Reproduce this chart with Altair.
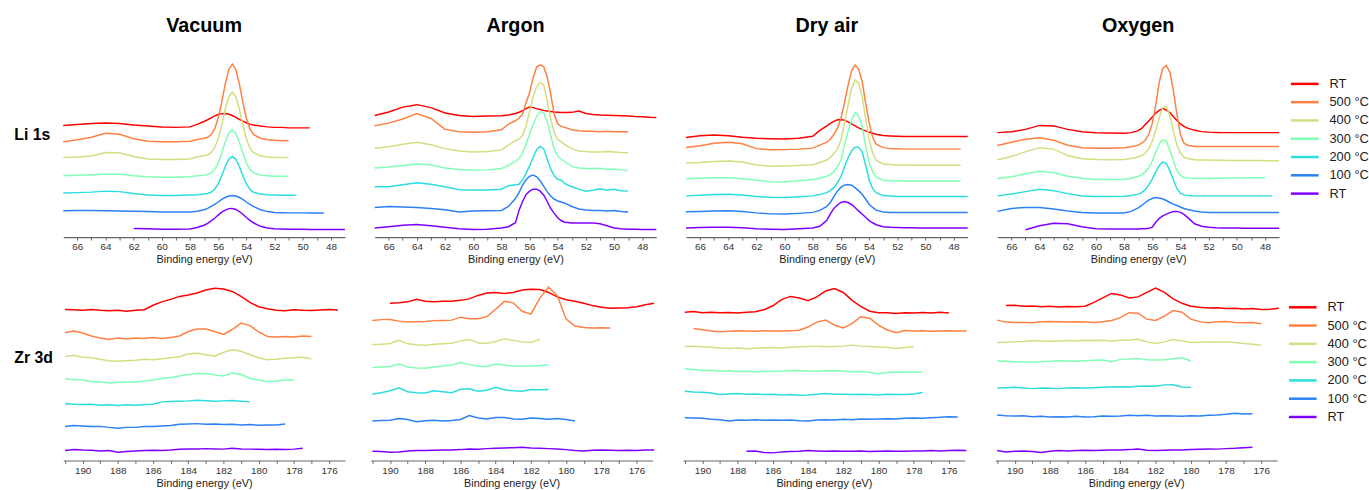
import altair as alt
import pandas as pd

FONT = "Liberation Sans"

# ---------------- series / legend ----------------
LABELS = ["RT", "500 °C", "400 °C", "300 °C", "200 °C", "100 °C", "RT"]
KEYS = ["RT (after)", "500", "400", "300", "200", "100", "RT (before)"]
COLORS = ["#ff0000", "#ff8042", "#d4dd80", "#80ffb4", "#2bdddd", "#2b80f6", "#8000ff"]
ATMOS = ["Vacuum", "Argon", "Dry air", "Oxygen"]

# ---------------- Li 1s ----------------
LI_E = [67, 66, 65, 64, 63, 62, 61, 60, 59, 58,
        57.5, 57, 56.75, 56.5, 56.25, 56, 55.75, 55.5, 55.25, 55, 54.75, 54.5, 54.25, 54, 53.75, 53.5, 53,
        52.5, 52, 51.5, 51, 50.5, 50, 49.5, 49, 48.5, 48, 47.5, 47]
LI_TICKS = [48, 49, 50, 51, 52, 53, 54, 55, 56, 57, 58, 59, 60, 61, 62, 63, 64, 65, 66]

LI_VACUUM = [
    [113, 114, 115, 115.5, 115, 113.5, 112.5, 111.5, 111, 111.5,
     114, 117, 118.7, 120.7, 122.6, 124, 124.9, 125, 124.2, 123, 121.2, 119, 117.3, 115.7, 114.3, 113.4, 112.3,
     111.5, 111, 111, 110.5, 110.5, 110.5, 110.5, None, None, None, None, None],
    [96.5, 98.5, 101, 105, 104, 99.5, 97, 96.5, 96.5, 97,
     98.8, 100, 101, 103.8, 109.5, 120.3, 136.5, 155, 169.6, 175, 169.6, 155, 136.5, 120.3, 109.5, 103.8, 100,
     98.5, 98, 97.5, 97.5, None, None, None, None, None, None, None, None],
    [80.5, 81, 82, 85.5, 85, 81.5, 79, 78.5, 78.5, 79,
     81.2, 82.2, 83.1, 85.5, 90.4, 99.6, 113.5, 129.3, 141.9, 146.5, 141.9, 129.3, 113.5, 99.6, 90.4, 85.5, 82.2,
     81, 80.5, 80.5, 80.5, None, None, None, None, None, None, None, None],
    [62, 62.5, 63, 63.5, 63.5, 62, 61, 60.5, 60.5, 61,
     62, 62.7, 63.4, 65, 68.6, 75.1, 85, 96.3, 105.2, 108.5, 105.2, 96.3, 85, 75.1, 68.6, 65, 62.7,
     62, 61.5, 61.5, 61.5, None, None, None, None, None, None, None, None],
    [44.5, 45, 45.5, 46.5, 46, 44, 42.5, 42, 42, 42.5,
     42.9, 43.5, 44.1, 45.4, 48.4, 53.8, 62, 71.4, 78.8, 81.5, 78.8, 71.4, 62, 53.8, 48.4, 45.4, 43.5,
     42.8, 42.5, 42.3, 42.3, 42.3, None, None, None, None, None, None, None],
    [26.7, 26.8, 26.8, 26.7, 26.5, 26.2, 25.8, 25.5, 25.5, 25.5,
     26.2, 27.7, 29.1, 31, 33.2, 35.5, 38.1, 40.1, 41.5, 42, 41.5, 40.1, 38.1, 35.5, 33.2, 31, 27.7,
     25.8, 25, 24.7, 24.5, 24.5, 24.5, 24.3, 24.3, 24.3, None, None, None],
    [None, None, None, None, None, 8.7, 8.5, 8, 8, 8.3,
     9.7, 12, 13.9, 16.4, 19.1, 22.3, 25.2, 27.3, 28.8, 29, 28, 25.9, 23.1, 19.8, 17, 14.5, 10.9,
     9.3, 8.5, 8.2, 8, 8, 8, 7.8, 7.8, 7.7, 7.7, 7.7, 7.7],
]

LI_ARGON = [
    [123, 126.5, 131.5, 134, 131, 125.5, 123, 122, 122.5, 122.7,
     123.5, 125, 126.3, 128, 130, 131.5, 131, 130, 129, 128.2, 127.5, 127, 126.5, 126.3, 126, 126, 126.2,
     127.5, 125, 124, 123.5, 123.2, 123, 122.8, 122.5, 122, 121.8, 121.3, 121],
    [112.7, 115.3, 119.5, 125, 120, 109, 106.5, 106, 106.5, 108.5,
     114.3, 117.7, 120.5, 124.3, 136, 146, 161, 172, 174.3, 172.5, 162, 145, 124, 114.5, 112, 111, 108.7,
     107.5, 107, 107, 106.5, 107, 106.5, 106.5, 106.5, None, None, None, None],
    [90, 91.5, 94, 96, 93.5, 89.5, 87, 86, 86.5, 88,
     93, 97.5, 99, 103, 112, 127, 142, 152, 156.5, 154, 138, 120, 106, 98.5, 96.5, 93.5, 89.5,
     87, 86.5, 86, 86, 86.5, 86, 85.5, 85.3, None, None, None, None],
    [70, 71, 72.5, 74, 73, 70, 68.5, 67.7, 68, 69.3,
     72.5, 76.5, 79.5, 85, 94, 104, 114, 122, 127, 126, 117, 103, 89, 82, 79, 76.5, 71.5,
     70, 69.5, 69.5, 69.7, 68.5, 69, 68, 67, None, None, None, None],
    [51, 51, 53, 55, 53.5, 51, 48, 47.7, 47.7, 48.5,
     52, 53, 53.5, 58, 64.5, 72, 80.5, 88.5, 91.7, 89.5, 79, 69, 62, 58.5, 57.5, 54, 51,
     48.5, 46.5, 47.5, 49, 47.5, 48.5, 47, 46.5, None, None, None, None],
    [30, 31, 30.5, 30, 29, 27.7, 25.5, 26.5, 26.7, 27,
     31, 39, 45, 52.5, 58, 61.5, 62.7, 61, 57, 51.5, 46, 41.5, 38.5, 36.5, 35.5, 34.3, 31,
     28.5, 27.5, 27, 27, 26.5, 27, 26, 25.3, None, None, None, None],
    [9.3, 10.5, 12, 12.7, 11.5, 10, 8.5, 7.7, 8, 9.3,
     10.5, 14.5, 27, 36, 43, 46.5, 48.5, 48.5, 46.5, 42.7, 36, 29, 24, 19.5, 16.5, 15, 14.3,
     14.3, 14.3, 14.3, 13.5, 11.5, 9.3, 8.5, 8, 8, 7.7, 7.7, 7.7],
]

LI_DRYAIR = [
    [100.7, 102.5, 103.3, 102.5, 101, 100, 99.5, 99.3, 100, 102,
     108, 112.5, 115, 117, 118.7, 119, 118.3, 116.5, 114.5, 112.5, 110.5, 109, 107.5, 106, 105, 104, 102.7,
     102.3, 102, 101.7, 101.7, 101.7, 101.7, 101.7, 101.7, 101.7, 101.7, 101.7, 101.7],
    [90.7, 92.5, 95, 96, 94.5, 89.5, 88.3, 88.5, 89, 90,
     93, 96, 99, 104, 110, 120, 136, 153, 168, 174, 170, 158, 136, 116, 101, 94, 90.5,
     89.5, 89.3, 89, 89, 89, 89, 89, 89, 89, 89, 89, None],
    [75, 75.5, 76.5, 77, 76, 73, 71.7, 72, 72.5, 73.3,
     75.5, 78, 80.5, 84.5, 89, 98, 115, 133, 150, 159, 156, 143, 120, 99, 85, 77.5, 74,
     73.5, 73, 73, 73, 72.7, 72.7, 72.7, 72.7, 72.7, 72.7, 72.7, None],
    [59, 59.5, 60, 60, 59, 57.5, 56, 55.7, 57, 58.3,
     59.5, 61.5, 63.5, 66.5, 71, 78, 93, 107, 118, 126, 123, 113, 92, 76, 66, 61, 57.5,
     57, 57, 56.7, 56.7, 56.7, 56.7, 56.7, 56.7, 56.7, 56.7, 56.7, None],
    [41.7, 42.3, 43, 43.3, 42.5, 41, 40.3, 40, 40.8, 41.7,
     43, 45, 47, 50, 55, 61, 71, 80, 87, 91, 91, 86.5, 73, 58, 49, 45, 42,
     41.5, 41, 41, 41, 41, 41, 41, 41, 41, 41, 41, 41],
    [25.7, 26, 26.5, 26.7, 26, 24.5, 23.5, 23.3, 24, 25,
     27, 31, 35, 41, 46.5, 50.5, 52.5, 53.3, 52.5, 50, 47, 43.3, 38.5, 33.3, 30, 27.3, 25.5,
     25, 25, 25, 25, 25, 25, 25, 25, 25, 25, 25, 25],
    [9.3, 9.7, 10, 10, 9.5, 8.5, 8, 7.7, 8.5, 9.3,
     11, 17, 23.5, 29, 32.5, 35, 36, 35, 33, 30, 26.5, 23.3, 20, 16.7, 14.5, 12.5, 10.5,
     10, 9.7, 9.5, 9.5, 9.3, 9.3, 9.3, 9.3, 9.3, 9.3, 9.3, 9.3],
]

LI_OXYGEN = [
    [105.7, 106.5, 109, 113, 112.5, 109, 106.5, 105.5, 105.2, 105,
     105.7, 107.7, 110, 114, 117.5, 121.5, 125.5, 128.3, 130, 128.5, 126, 121.7, 118, 114.5, 112, 110.2, 108,
     106.7, 106.2, 105.9, 105.7, 105.7, 105.7, 105.7, 105.7, 105.7, 105.7, 105.7, 105.7],
    [92.7, 96, 99, 100.5, 98, 93, 90.5, 90, 90, 90.5,
     91.5, 93, 95, 98, 104, 115, 134, 157, 171, 173.5, 166.7, 148, 124, 103.5, 95, 93, 91.7,
     91.7, 91.7, 91.7, 91.7, 91.7, 91.7, 91.7, 91.7, 91.7, 91.7, 91.7, 91.7],
    [78.3, 81.5, 86.5, 90.5, 89, 82.5, 79.3, 78.5, 78.3, 78.5,
     79.5, 81, 82.5, 85, 89.5, 97, 108, 121, 131, 132, 123, 107, 93, 85, 81, 79.5, 78.3,
     78, 78, 77.8, 77.7, 77.6, 77.5, 77.5, 77.4, 77.4, 77.3, 77.3, 77.3],
    [59.3, 61, 64, 66.5, 65, 61.5, 59.5, 58.3, 58.3, 58.5,
     59.5, 61.5, 63, 66, 70, 77, 86, 94.5, 98.3, 97, 88, 77, 67, 62.5, 60.5, 59.7, 59.3,
     59.3, 59.3, 59.5, 59.5, 59.7, 59.7, 59.8, 60, 60, 60, None, None],
    [41.7, 43.5, 46, 48.5, 47, 44, 41.5, 41, 41, 41.3,
     42, 43.5, 45, 48, 52.5, 59, 66, 72.5, 76, 74.5, 67, 58, 49, 44.5, 42.7, 42, 41.7,
     41.7, 41.7, 41.7, 41.7, 41.7, 41.7, 41.7, 41.7, 41.7, 41.7, 41.7, None],
    [26, 29, 30, 30, 28.5, 26.5, 25, 24.3, 24.3, 24.3,
     26, 29.5, 32, 35, 37.5, 39, 40, 39.5, 38.5, 37, 35, 33.3, 32, 30.5, 29, 28, 26.5,
     25.3, 25, 25, 25, 25, 25, 25, 25, 25, 25, 25, 25],
    [None, None, 7.5, 11.5, 14, 13.5, 10.5, 8.5, 8.3, 8.3,
     8.3, 8.3, 8.4, 8.5, 9, 10, 15, 19, 21.5, 23.3, 24.8, 25.8, 26, 25, 23, 20, 13.5,
     11, 10, 9.5, 9.3, 9.2, 9.1, 9, 9, 9, 9, 9, 9],
]

# ---------------- Zr 3d ----------------
ZR_E = [191, 190.5, 190, 189.5, 189, 188.5, 188, 187.5, 187, 186.5,
        186, 185.5, 185, 184.5, 184, 183.5, 183, 182.5, 182, 181.5,
        181, 180.5, 180, 179.5, 179, 178.5, 178, 177.5, 177, 176.5,
        176, 175.5, 175]
ZR_TICKS = [176, 177, 178, 179, 180, 181, 182, 183, 184, 185, 186, 187, 188, 189, 190, 191]

N = None
ZR_VACUUM = [
    [152.7, 152.5, 152, 152.7, 152, 151.5, 152, 151, 152, 152.5,
     157, 160.5, 163, 166, 167.5, 169.5, 172.5, 174.3, 173.5, 171,
     166, 160, 155.5, 153.5, 152, 151.5, 152.5, 152, 151.7, 152.3,
     152.7, 152.3, N],
    [129.3, 131, 129, 126, 124, 122.5, 124, 123, 124, 123.5,
     124.5, 123.5, 124.5, 126, 130.5, 133, 133, 130.5, 127.5, 132.5,
     139, 136.5, 130, 125.5, 125, 125.5, 125, 126, 125.5, N,
     N, N, N],
    [105.3, 106.5, 104.5, 104, 102.5, 101, 100.5, 101, 101.5, 102.5,
     102, 103, 104, 105, 108, 108.5, 107, 105.5, 109.5, 112,
     110.5, 107, 104, 102, 102.5, 103.5, 104, 104.5, 103, N,
     N, N, N],
    [82.7, 82, 81.5, 80, 79.5, 78.5, 79, 79.5, 79.3, 80.5,
     81.5, 83, 84, 85.5, 87, 88, 88, 86.5, 85.5, 88.5,
     87, 83, 81.5, 80, 80.5, 81.5, 81.5, N, N, N,
     N, N, N],
    [57.7, 57, 56.7, 57, 56, 56.3, 55.7, 56.3, 56, 56.7,
     57, 59.3, 59.7, 60, 60.3, 61, 60.5, 60, 60.3, 60.7,
     60, 59.3, N, N, N, N, N, N, N, N,
     N, N, N],
    [34.3, 35.5, 35, 34.3, 34.5, 33.5, 32.7, 33.5, 33.5, 34.3,
     34.5, 35, 35.5, 36.7, 37, 37.3, 36.7, 37, 36.5, 36.7,
     36, 36.3, 35.7, 36, 36, 37, N, N, N, N,
     N, N, N],
    [10, 11, 10.5, 10.3, 9.7, 10, 8.3, 9, 9.5, 10,
     10.3, 10, 10.5, 11.3, 11.7, 11.7, 12, 11.7, 11.5, 12.3,
     11.7, 11.5, 11.3, 11, 11.3, 11, 11.5, 12.3, N, N,
     N, N, N],
]

ZR_ARGON = [
    [N, N, 159, 159.5, 160.5, 163, 161, 160.5, 161, 161,
     162, 163.5, 167, 169.5, 170, 169, 170, 172.5, 173.3, 173,
     170, 165.5, 162.7, 161, 159, 156.7, 155, 154, 154.3, 154.5,
     155.5, 157.5, 159],
    [141.7, 142.5, 142.7, 141, 140, 140.3, 140.7, 141.5, 141.7, 142,
     145, 143.5, 143.3, 145.5, 153, 161, 159.5, 151, 148, 164,
     175.5, 166.7, 143, 136, 134.5, 134, 134.2, 134, N, N,
     N, N, N],
    [117.3, 117.5, 118.3, 121.5, 118, 117, 116.7, 117.5, 118, 118.5,
     121, 122.5, 119, 118.3, 120.5, 123, 121.5, 120, 119.3, 122.5,
     N, N, N, N, N, N, N, N, N, N,
     N, N, N],
    [94, 94.5, 95, 97.5, 94.5, 93.5, 93.3, 94.5, 95.5, 96.5,
     99, 97, 95.5, 95, 97.5, 96.5, 95.5, 95.7, 95.5, 96,
     96.7, N, N, N, N, N, N, N, N, N,
     N, N, N],
    [67.3, 68.5, 70.5, 73.5, 69.5, 68.5, 68.3, 70.5, 69.5, 68.5,
     72, 72.5, 70, 71, 74, 71.5, 70.5, 70, 71.7, 71.5,
     71.7, N, N, N, N, N, N, N, N, N,
     N, N, N],
    [40, 40.5, 40.7, 42.5, 41.5, 39.3, 40.3, 40.7, 40, 40.5,
     41.5, 45.5, 43, 42, 43.5, 43.5, 42, 41.7, 43, 42.5,
     41.7, 42.5, 41.5, 40, N, N, N, N, N, N,
     N, N, N],
    [9.3, 9, 8.3, 8.7, 9.5, 10, 10, 10.3, 10.7, 10.5,
     11, 11.7, 11.3, 12, 12.3, 12.7, 13, 13.3, 12.7, 12.3,
     12, 11.7, 11, 10, 9.5, 10.3, 10.7, 10.3, 10, 10.3,
     10, 10.5, 10.7],
]

ZR_DRYAIR = [
    [150, 150.7, 149.5, 150, 149.5, 149.7, 149.3, 150, 150.5, 152.5,
     156.5, 162.7, 166, 164.3, 161.7, 165.5, 171.5, 174, 170, 162,
     156, 151, 149.5, 149.5, 148.7, 149.5, 149.3, 149.7, 149.3, 150,
     149.3, N, N],
    [N, 133.5, 132.3, 131, 130.3, 130.7, 131.3, 131, 130.7, 131.3,
     131, 131, 131.3, 131.7, 135, 140, 142, 137, 134, 138.5,
     145.5, 144, 137, 132, 129.3, 131.5, 131, 131.3, 130.7, 131,
     131.3, 131, 131],
    [115.3, 115.7, 115, 114.5, 113.7, 113.3, 113.7, 113, 113.5, 114,
     114.3, 113.7, 114.5, 115, 115.3, 115.7, 115, 115.3, 115.7, 116.7,
     115.7, 115.3, 114.7, 114.5, 113.3, 114.3, 115, N, N, N,
     N, N, N],
    [92.7, 92, 91, 91.3, 90.3, 90.7, 90, 90.3, 89.7, 90.3,
     90, 90.3, 90.7, 91, 90.5, 90.3, 90.7, 91, 90.3, 89.7,
     90, 89.3, 87.7, 89, 89.5, 89.3, 89.3, 89.5, N, N,
     N, N, N],
    [70, 69.3, 69, 68.3, 66.7, 67.3, 67.7, 67, 67.3, 66.7,
     67, 66.3, 66.7, 66, 66.3, 67, 67.7, 67, 67, 66.7,
     67, 66.7, 66.3, 67, 66.7, 66.7, 67.3, 68.7, N, N,
     N, N, N],
    [43.3, 43, 42.7, 41.7, 41.3, 40, 41, 40.7, 41.3, 40.7,
     41, 40.7, 41, 40.3, 40, 41, 41.3, 41, 41.7, 41.3,
     42, 41.7, 42, 42.3, 42, 42.7, 43, 42.7, 43.3, 43.7,
     44.3, 44, N],
    [N, N, N, N, N, N, N, 9.3, 9.5, 8,
     7.7, 8.7, 9, 9.3, 10, 9.7, 9.3, 9.7, 9.3, 9.3,
     9.7, 9, 9.3, 9.7, 9.3, 9.3, 9.7, 9.5, 10, 9.7,
     10, 10.3, 10],
]

ZR_OXYGEN = [
    [N, 156.7, 157, 156, 156.3, 155.5, 156, 155.3, 155.7, 155.5,
     156, 160, 164.5, 169, 167.5, 164.5, 165.5, 170, 174.5, 170,
     163.5, 159, 156, 155, 154.3, 154.5, 153.7, 154, 153.3, 153.7,
     152.7, 153, 154],
    [142, 140, 139.5, 139.7, 139.3, 140.3, 140.7, 140.3, 140, 140.3,
     140, 139.7, 140.3, 141.7, 144.5, 149.5, 149, 143, 141.7, 146,
     151.7, 150, 143, 140.5, 139.3, 140.3, 140.7, 139.7, 139.3, 139.5,
     138.3, N, N],
    [119.3, 119.7, 120, 120.3, 121.3, 121, 120.7, 121, 121.3, 121,
     121.7, 121.3, 121.7, 121, 121.7, 122, 122.7, 120, 118.3, 120,
     122.3, 121, 119.3, 119.7, 120, 119.7, 120, 119.3, 118.3, 117.5,
     116.7, N, N],
    [100.7, 100.3, 100, 99.7, 99.3, 100, 100.3, 101, 100.7, 100.3,
     101, 101.3, 101.7, 100, 102.3, 102.7, 103.3, 102, 101.7, 102,
     103, 104, 100.7, N, N, N, N, N, N, N,
     N, N, N],
    [73.3, 73.7, 74, 73.3, 72.7, 73.3, 73, 72.7, 73.3, 73.5,
     73.3, 73.7, 74, 74.3, 74.7, 74.3, 75, 75.3, 75, 76.5,
     76.7, 74.3, 74, N, N, N, N, N, N, N,
     N, N, N],
    [46, 45.3, 45, 45.3, 44.3, 44.7, 44, 44.3, 44, 44.7,
     44, 44.3, 45, 44.7, 45, 45.7, 45.3, 45.7, 45, 45.3,
     45, 44.7, 45.3, 45, 45.7, 46, 46.7, 47.7, 47, 47.3,
     N, N, N],
    [10, 8.7, 9.3, 9.7, 9, 8, 9.3, 10, 9.7, 10,
     10.3, 10, 10.3, 10.5, 10.7, 11, 11.7, 10.3, 10, 10.3,
     10.7, 10.5, 11, 11.3, 11.7, 11.5, 12, 12.3, 13, 13.3,
     N, N, N],
]

LI_DATA = dict(zip(ATMOS, [LI_VACUUM, LI_ARGON, LI_DRYAIR, LI_OXYGEN]))
ZR_DATA = dict(zip(ATMOS, [ZR_VACUUM, ZR_ARGON, ZR_DRYAIR, ZR_OXYGEN]))

W, H = 285, 180


def to_frame(energies, curves):
    rows = []
    for key, ys in zip(KEYS, curves):
        for e, v in zip(energies, ys):
            if v is not None:
                rows.append({"E": e, "I": v, "s": key})
    return pd.DataFrame(rows)


color = alt.Color("s:N", scale=alt.Scale(domain=KEYS, range=COLORS), legend=None)
legend_df = pd.DataFrame({"s": KEYS, "label": LABELS})


def make_row(energies, data, domain, ticks, row_name, with_titles):
    charts = []
    for i, atm in enumerate(ATMOS):
        df = to_frame(energies, data[atm])
        x = alt.X(
            "E:Q",
            scale=alt.Scale(domain=domain, reverse=True, nice=False, zero=False),
            axis=alt.Axis(values=ticks, labelExpr="datum.value % 2 == 0 ? datum.label : ''",
                          title="Binding energy (eV)", grid=False, tickSize=3,
                          labelPadding=2, titlePadding=2, labelOverlap=False, labelFlush=False),
        )
        if i == 0:
            y = alt.Y("I:Q", scale=alt.Scale(domain=[0, 180], nice=False, zero=False),
                      axis=alt.Axis(title=row_name, labels=False, ticks=False, domain=False, grid=False,
                                    titleAngle=0, titleAlign="left", titleBaseline="middle",
                                    titleX=-50, titleY=76, titleFontSize=16, titleFontWeight="bold",
                                    titleColor="black", titleFont=FONT))
        else:
            y = alt.Y("I:Q", scale=alt.Scale(domain=[0, 180], nice=False, zero=False), axis=None)
        lines = alt.Chart(df).mark_line(strokeWidth=1.5).encode(x=x, y=y, color=color)
        if i == 3:
            ly = alt.Y("s:N", sort=KEYS,
                       scale=alt.Scale(type="point", domain=KEYS, range=[25, 136], padding=0),
                       axis=None)
            rule = alt.Chart(legend_df).mark_rule(strokeWidth=2.5).encode(
                x=alt.value(297), x2=alt.value(325), y=ly, color=color)
            text = alt.Chart(legend_df).mark_text(
                align="left", baseline="middle", fontSize=13, font=FONT, color="#222222"
            ).encode(x=alt.value(336), y=ly, text="label:N")
            ch = alt.layer(lines, rule, text).resolve_scale(y="independent")
        else:
            ch = alt.layer(lines)
        if with_titles:
            ch = ch.properties(width=W, height=H,
                               title=alt.TitleParams(atm, fontSize=20, font=FONT, fontWeight="bold",
                                                     anchor="middle", offset=23, color="black"))
        else:
            ch = ch.properties(width=W, height=H)
        charts.append(ch)
    return alt.hconcat(*charts, spacing=24)


row1 = make_row(LI_E, LI_DATA, [47, 67], LI_TICKS, "Li 1s", True)
row2 = make_row(ZR_E, ZR_DATA, [175.1, 191.1], ZR_TICKS, "Zr 3d", False)

chart = (
    alt.vconcat(row1, row2, spacing=18)
    .properties(padding={"left": 14, "top": 14, "right": 0, "bottom": 0}, background="white")
    .configure(font=FONT)
    .configure_view(stroke=None)
    .configure_axis(labelFont=FONT, titleFont=FONT, labelFontSize=10, titleFontSize=11,
                    labelColor="#333333", titleColor="#222222", titleFontWeight="normal",
                    domainColor="#666666", tickColor="#666666", domainWidth=1.2)
)

chart.save("out.html", embed_options={"renderer": "svg", "actions": False})
